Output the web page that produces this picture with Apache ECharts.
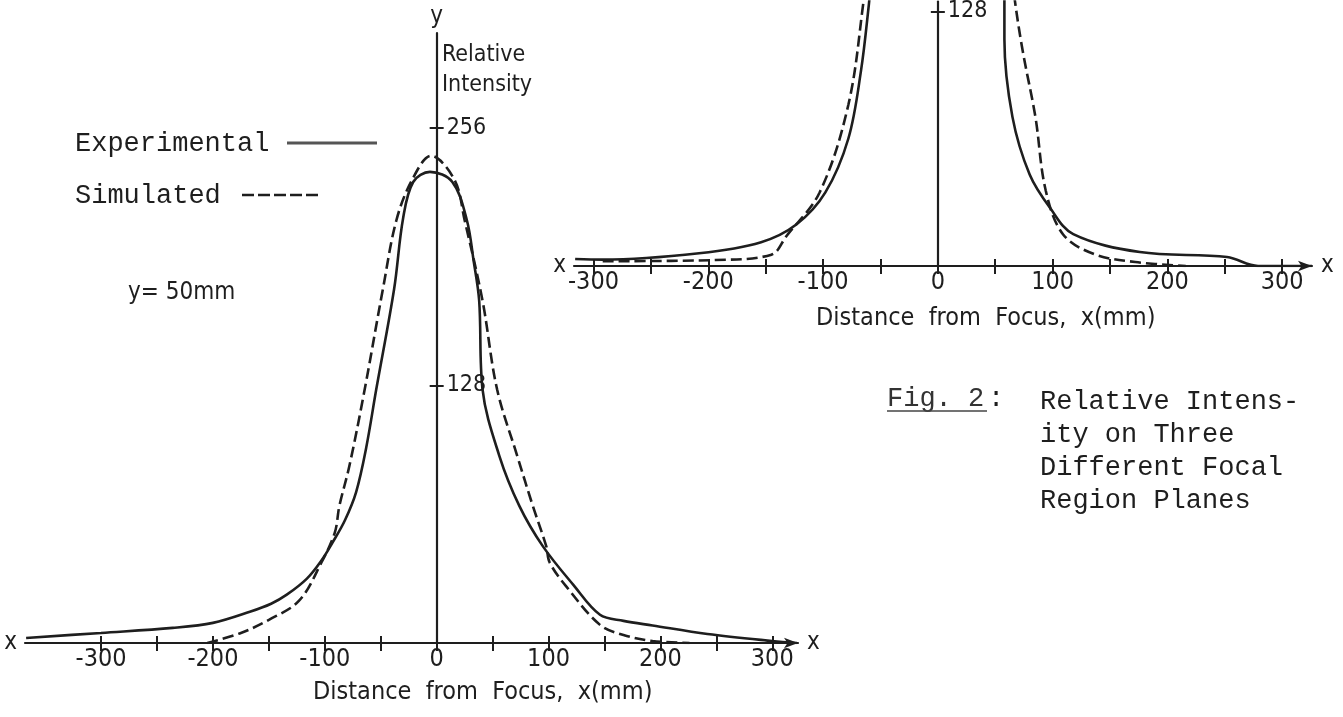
<!DOCTYPE html>
<html>
<head>
<meta charset="utf-8">
<script src="https://cdn.jsdelivr.net/npm/echarts@6/dist/echarts.min.js"></script>
<style>
  html, body { margin: 0; padding: 0; background: #fff; }
  #chart { width: 1343px; height: 717px; }
</style>
</head>
<body>
<div id="chart"></div>
<script>
// -----------------------------------------------------------------------------
// Fig. 2 - relative intensity vs distance from focus (scanned report figure)
// values: [x (mm), relative intensity]
// -----------------------------------------------------------------------------

// lower left plot, plane y = 50 mm
const leftExperimental = [
  [-367, 2.5], [-300, 5], [-236, 7.5], [-200, 10], [-167, 15.5], [-148, 19.5],
  [-134, 24], [-116, 32], [-103, 41], [-93, 50], [-82, 61], [-72, 75],
  [-63, 97], [-54, 126], [-38, 176], [-30, 211], [-21, 229], [-6, 234],
  [14, 229], [27, 210], [33, 190], [38, 170], [41, 126], [56, 93],
  [74, 68], [95, 48], [122, 29], [146, 14], [167, 11], [193, 8.7],
  [242, 4.5], [300, 1], [322, 0]
];
const leftSimulated = [
  [-205, 0], [-175, 5], [-150, 11.5], [-123, 21], [-103, 40], [-91, 55],
  [-87, 68], [-78, 88], [-65, 124], [-48, 176], [-36, 210], [-22, 230],
  [-5, 242], [16, 230], [25, 210], [41, 170], [54, 126], [72, 93],
  [86, 68], [98, 48], [101, 40], [116, 28], [146, 9], [167, 4],
  [193, 1], [226, 0]
];

// upper right plot (its top is cut off by the page)
const rightExperimental = [
  [-316, 3.5], [-292, 3.2], [-208, 6.4], [-154, 12], [-123, 21], [-98, 37],
  [-78, 64], [-67, 98], [-60, 132], [-55, 160],
  [55, 160], [58, 134], [58, 114], [65, 75], [80, 46], [98, 29],
  [118, 16], [176, 7], [252, 4.5], [279, 0], [326, 0]
];
const rightSimulated = [
  [-292, 2.4], [-194, 3], [-145, 5.7], [-132, 15], [-103, 37], [-78, 81],
  [-65, 132], [-60, 160],
  [62, 160], [67, 134], [74, 108], [85, 75], [94, 38], [109, 16],
  [136, 6], [172, 2], [216, 0]
];

const xTickValues = [-300, -250, -200, -150, -100, -50, 0, 50, 100, 150, 200, 250, 300];
const xLabelValues = [-300, -200, -100, 0, 100, 200, 300];
const leftYTicks = [128, 256];
const rightYTicks = [128];

const INK = "#1e1e1e";
const AXIS_FONT = '"DejaVu Sans Condensed", "DejaVu Sans", sans-serif';
const TYPE_FONT = '"Liberation Mono", "DejaVu Sans Mono", monospace';

const GRIDS = [
  { left: 25, top: 33, width: 773, height: 610, xMin: -368, xMax: 323, yMax: 303 },
  { left: 574, top: 0, width: 738, height: 266, xMin: -317, xMax: 326, yMax: 133 }
];

// one grid = two x axes + two y axes, so the ticks cross the axis line ("+")
function xAxes(gridIndex) {
  const g = GRIDS[gridIndex];
  const base = {
    gridIndex, type: "value", min: g.xMin, max: g.xMax, position: "bottom",
    splitLine: { show: false }
  };
  const nameStyle = { color: INK, fontFamily: AXIS_FONT, fontSize: 24, verticalAlign: "middle" };
  return [
    Object.assign({}, base, {
      name: "x", nameLocation: "end", nameGap: 9, nameTextStyle: nameStyle,
      axisLine: {
        onZero: true, symbol: ["none", "arrow"], symbolSize: [8, 14],
        lineStyle: { color: INK, width: 2.2 }
      },
      axisTick: { customValues: xTickValues, length: 8, lineStyle: { color: INK, width: 2 } },
      axisLabel: {
        customValues: xLabelValues, margin: 4, color: INK,
        fontFamily: AXIS_FONT, fontSize: 25
      }
    }),
    Object.assign({}, base, {
      name: "x", nameLocation: "start", nameGap: 8, nameTextStyle: nameStyle,
      axisLine: { onZero: true, lineStyle: { opacity: 0 } },
      axisTick: { customValues: xTickValues, inside: true, length: 7, lineStyle: { color: INK, width: 2 } },
      axisLabel: { show: false }
    })
  ];
}

// y axis sits on x = 0, shifted in from the grid's left edge
function yAxes(gridIndex, ticks, withName) {
  const g = GRIDS[gridIndex];
  const shift = -((0 - g.xMin) / (g.xMax - g.xMin)) * g.width;
  const base = {
    gridIndex, type: "value", min: 0, max: g.yMax, position: "left", offset: shift,
    splitLine: { show: false }
  };
  return [
    Object.assign({}, base, {
      name: withName ? "y" : "", nameLocation: "end", nameGap: 4,
      nameTextStyle: { color: INK, fontFamily: AXIS_FONT, fontSize: 24 },
      axisLine: { onZero: false, lineStyle: { color: INK, width: 2.2 } },
      axisTick: { customValues: ticks, length: 7, lineStyle: { color: INK, width: 2 } },
      axisLabel: {
        customValues: ticks, inside: true, margin: 10, color: INK,
        fontFamily: AXIS_FONT, fontSize: 23
      }
    }),
    Object.assign({}, base, {
      axisLine: { onZero: false, lineStyle: { opacity: 0 } },
      axisTick: { customValues: ticks, inside: true, length: 7, lineStyle: { color: INK, width: 2 } },
      axisLabel: { show: false }
    })
  ];
}

function curve(name, data, xIdx, yIdx, dashed) {
  return {
    name, type: "line", data, xAxisIndex: xIdx, yAxisIndex: yIdx,
    showSymbol: false, smooth: 0.35, clip: true, silent: true,
    lineStyle: { color: INK, width: 2.6, type: dashed ? [11, 5] : "solid" }
  };
}

function text(left, top, str, font, size, extra) {
  return {
    type: "text", left, top, silent: true,
    style: Object.assign({ text: str, fill: INK, font: `${size}px ${font}` }, extra || {})
  };
}

const chart = echarts.init(document.getElementById("chart"));
chart.setOption({
  animation: false,
  backgroundColor: "#fff",
  grid: GRIDS.map((g) => ({ left: g.left, top: g.top, width: g.width, height: g.height })),
  xAxis: [...xAxes(0), ...xAxes(1)],
  yAxis: [...yAxes(0, leftYTicks, true), ...yAxes(1, rightYTicks, false)],
  series: [
    curve("Experimental", leftExperimental, 0, 0, false),
    curve("Simulated", leftSimulated, 0, 0, true),
    curve("Experimental", rightExperimental, 2, 2, false),
    curve("Simulated", rightSimulated, 2, 2, true)
  ],
  graphic: [
    text(442, 40, "Relative\nIntensity", AXIS_FONT, 23, { lineHeight: 30 }),
    text(75, 130, "Experimental", TYPE_FONT, 27),
    text(75, 182, "Simulated", TYPE_FONT, 27),
    { type: "line", silent: true, shape: { x1: 287, y1: 143, x2: 377, y2: 143 },
      style: { stroke: "#555", lineWidth: 3 } },
    { type: "line", silent: true, shape: { x1: 242, y1: 195, x2: 322, y2: 195 },
      style: { stroke: INK, lineWidth: 2.5, lineDash: [12, 4] } },
    text(128, 281, "y= 50mm", AXIS_FONT, 24),
    text(313, 680, "Distance  from  Focus,  x(mm)", AXIS_FONT, 25),
    text(816, 306, "Distance  from  Focus,  x(mm)", AXIS_FONT, 25),
    text(887, 385, "Fig. 2", TYPE_FONT, 27, { fill: "#333" }),
    text(988, 385, ":", TYPE_FONT, 27),
    { type: "line", silent: true, shape: { x1: 887, y1: 411, x2: 987, y2: 411 },
      style: { stroke: "#444", lineWidth: 1.5 } },
    text(1040, 385, "Relative Intens-\nity on Three\nDifferent Focal\nRegion Planes",
      TYPE_FONT, 27, { lineHeight: 33 })
  ]
});
</script>
</body>
</html>
